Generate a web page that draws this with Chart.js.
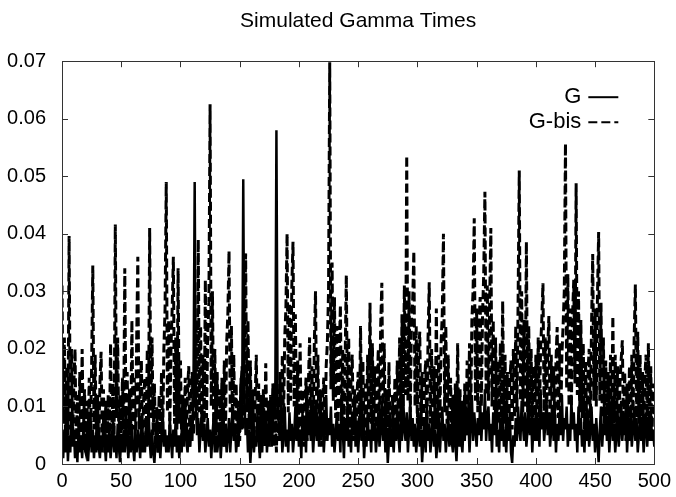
<!DOCTYPE html>
<html>
<head>
<meta charset="utf-8">
<script src="https://cdn.jsdelivr.net/npm/chart.js@4.4.1/dist/chart.umd.min.js"></script>
<style>
  html, body { margin: 0; padding: 0; background: #fff; }
  #wrap { width: 676px; height: 497px; }
</style>
</head>
<body>
<div id="wrap"><canvas id="gamma"></canvas></div>
<script>
// Simulated Gamma Times
const chartTitle = 'Simulated Gamma Times';
const seriesNames = ['G', 'G-bis'];
const xTickValues = [0, 50, 100, 150, 200, 250, 300, 350, 400, 450, 500];
const yTickValues = [0, 0.01, 0.02, 0.03, 0.04, 0.05, 0.06, 0.07];
const yTickLabels = ['0', '0.01', '0.02', '0.03', '0.04', '0.05', '0.06', '0.07'];

// G (solid), t = 0..500
const gValues = [
  .004,.001,.006,.002,.008,.0005,.005,.002,.009,.003,
  .006,.001,.004,.0003,.007,.002,.005,.001,.006,.003,
  .002,.006,.0005,.004,.009,.002,.006,.001,.005,.002,
  .007,.003,.001,.005,.002,.009,.004,.0005,.005,.002,
  .006,.001,.004,.008,.002,.005,.001,.007,.003,.0003,
  .005,.002,.006,.002,.009,.004,.001,.005,.002,.007,
  .003,.0005,.005,.002,.006,.004,.001,.008,.002,.005,
  .002,.007,.003,.01,.004,.001,.006,.002,.0002,.004,
  .008,.002,.005,.001,.005,.009,.003,.006,.002,.005,
  .002,.008,.004,.001,.006,.003,.008,.002,.005,.001,
  .005,.002,.007,.004,.011,.004,.002,.006,.003,.008,
  .004,.013,.049,.01,.005,.008,.002,.006,.009,.004,
  .007,.002,.005,.008,.003,.006,.001,.005,.008,.002,
  .005,.002,.004,.007,.001,.005,.009,.003,.006,.002,
  .005,.008,.002,.006,.01,.004,.007,.002,.005,.003,
  .008,.015,.006,.0495,.012,.005,.008,.002,.006,.0002,
  .004,.007,.002,.005,.003,.009,.005,.001,.006,.002,
  .008,.004,.009,.002,.006,.004,.011,.003,.007,.014,
  .009,.058,.011,.006,.004,.008,.002,.005,.01,.003,
  .006,.002,.009,.004,.007,.002,.005,.01,.004,.008,
  .003,.006,.001,.009,.004,.008,.002,.012,.005,.009,
  .004,.007,.002,.006,.011,.004,.008,.003,.013,.005,
  .009,.002,.006,.012,.004,.008,.005,.01,.003,.007,
  .002,.005,.009,.004,.007,.002,.012,.006,.001,.008,
  .004,.01,.003,.006,.002,.009,.005,.012,.004,.007,
  .002,.006,.011,.004,.008,.001,.005,.003,.009,.004,
  .006,.002,.01,.004,.007,.002,.005,.009,.003,.006,
  .011,.004,.008,.002,.006,.0002,.004,.009,.003,.005,
  .002,.007,.004,.01,.005,.002,.008,.004,.012,.006,
  .004,.009,.002,.006,.011,.004,.008,.003,.007,.002,
  .005,.009,.003,.006,.0003,.004,.008,.002,.01,.004,
  .007,.002,.005,.009,.003,.006,.001,.004,.008,.002,
  .006,.01,.004,.007,.002,.005,.009,.003,.006,.004,
  .002,.008,.004,.0005,.006,.003,.009,.004,.002,.007,
  .004,.01,.005,.008,.002,.007,.012,.004,.009,.006,
  .003,.008,.005,.011,.004,.009,.006,.013,.004,.008,
  .01,.004,.007,.002,.009,.005,.012,.003,.006,.002,
  .008,.004,.01,.003,.006,.002,.007,.004,.009,.002,
  .0002,.005,.003,.008,.004,.01,.006,.004,.011,.007,
  .004,.009,.003,.006,.012,.005,.008,.002,.007,.004,
  .01,.004,.008,.003,.013,.006,.009,.004,.007,.011,
  .005,.009,.003,.006,.01,.004,.008,.002,.007,.004,
  .009,.005,.012,.004,.008,.006,.01,.003,.007,.004,
  .011,.006,.009,.004,.007,.002,.01,.005,.008,.003,
  .006,.002,.008,.004,.009,.003,.006,.01,.004,.007,
  .002,.008,.004,.0003,.006,.01,.003,.007,.005,.009,
  .004,.008,.002,.006,.01,.004,.007,.002,.005,.009,
  .003,.006,.011,.004,.008,.005,.01,.002,.007,.004,
  .009,.003,.006,.01,.004,.008,.002,.005,.009,.004,
  .007,.002,.006,.009,.003,.008,.004,.01,.004,.006,
  .003
];

// G-bis (dashed), t = 0..500
const gbisValues = [
  .031,.007,.022,.003,.017,.005,.0396,.006,.02,.004,
  .014,.02,.003,.012,.004,.016,.003,.02,.005,.013,
  .002,.011,.004,.015,.003,.017,.0345,.006,.019,.004,
  .012,.003,.014,.0195,.004,.013,.002,.011,.003,.012,
  .004,.021,.006,.014,.005,.0416,.008,.022,.004,.012,
  .003,.015,.006,.034,.007,.016,.003,.013,.005,.025,
  .006,.015,.004,.021,.036,.006,.012,.018,.003,.012,
  .015,.004,.02,.007,.041,.008,.022,.005,.014,.003,
  .01,.002,.012,.004,.016,.005,.02,.027,.049,.009,
  .025,.006,.02,.027,.036,.007,.022,.006,.034,.007,
  .018,.004,.012,.003,.015,.004,.013,.017,.003,.012,
  .016,.005,.02,.025,.008,.039,.009,.024,.005,.019,
  .006,.032,.008,.022,.028,.0625,.01,.03,.007,.02,
  .005,.016,.003,.013,.004,.015,.003,.018,.005,.021,
  .026,.037,.009,.024,.006,.019,.004,.014,.003,.011,
  .004,.013,.017,.006,.021,.0366,.009,.025,.006,.018,
  .004,.013,.003,.011,.019,.004,.014,.002,.012,.004,
  .013,.003,.0175,.005,.011,.003,.012,.004,.014,.003,
  .011,.002,.013,.004,.016,.006,.019,.007,.022,.027,
  .04,.009,.028,.011,.031,.0386,.01,.026,.006,.018,
  .005,.021,.004,.013,.003,.011,.015,.004,.014,.022,
  .006,.017,.004,.021,.03,.007,.019,.004,.013,.003,
  .011,.015,.004,.017,.021,.03,.0698,.013,.035,.011,
  .029,.008,.024,.006,.019,.0276,.007,.02,.005,.018,
  .0328,.008,.022,.005,.015,.019,.004,.013,.003,.012,
  .016,.004,.024,.006,.018,.003,.014,.005,.019,.007,
  .028,.007,.021,.005,.017,.004,.013,.02,.006,.024,
  .0315,.008,.021,.004,.013,.003,.0177,.005,.003,.012,
  .004,.015,.005,.018,.006,.022,.008,.026,.01,.031,
  .012,.0536,.011,.03,.009,.025,.028,.037,.01,.024,
  .007,.019,.023,.006,.016,.004,.014,.018,.005,.022,
  .0316,.007,.02,.005,.017,.006,.027,.006,.019,.008,
  .021,.026,.04,.009,.024,.007,.019,.005,.015,.004,
  .012,.003,.014,.005,.021,.004,.013,.003,.011,.004,
  .014,.005,.018,.006,.021,.008,.025,.03,.0427,.011,
  .027,.009,.024,.029,.01,.026,.033,.0473,.012,.031,
  .011,.028,.041,.01,.025,.008,.022,.006,.018,.007,
  .021,.008,.0283,.007,.019,.005,.016,.004,.014,.018,
  .006,.02,.008,.024,.009,.028,.051,.011,.03,.009,
  .025,.01,.0386,.009,.024,.007,.02,.005,.017,.006,
  .019,.007,.022,.008,.02,.025,.0314,.008,.022,.007,
  .02,.0257,.007,.019,.005,.017,.006,.018,.0238,.008,
  .021,.007,.019,.024,.03,.0557,.013,.033,.01,.027,
  .01,.026,.032,.014,.0488,.012,.03,.009,.025,.008,
  .021,.006,.018,.005,.016,.02,.008,.024,.0365,.011,
  .027,.01,.029,.0403,.011,.028,.008,.022,.006,.018,
  .005,.016,.006,.019,.007,.0257,.007,.019,.006,.017,
  .004,.014,.018,.0215,.006,.016,.004,.014,.005,.017,
  .006,.019,.008,.022,.0312,.008,.023,.007,.019,.006,
  .016,.005,.015,.019,.006,.021,.006,.017,.004,.014,
  .008
];

const fontFamily = "'Liberation Sans', Arial, Helvetica, sans-serif";

function toPoints(values) {
  return values.map((v, i) => ({ x: i, y: v }));
}

// gnuplot style box, inward ticks and key
const framePlugin = {
  id: 'frame',
  afterDatasetsDraw(chart) {
    const ctx = chart.ctx;
    const area = chart.chartArea;
    const xs = chart.scales.x;
    const ys = chart.scales.y;
    const tick = 6;
    ctx.save();
    ctx.strokeStyle = '#333';
    ctx.lineWidth = 1;
    ctx.beginPath();
    xTickValues.forEach(v => {
      const px = Math.round(xs.getPixelForValue(v)) + 0.5;
      ctx.moveTo(px, area.bottom);
      ctx.lineTo(px, area.bottom - tick);
      ctx.moveTo(px, area.top);
      ctx.lineTo(px, area.top + tick);
    });
    yTickValues.forEach(v => {
      const py = Math.round(ys.getPixelForValue(v)) + 0.5;
      ctx.moveTo(area.left, py);
      ctx.lineTo(area.left + tick, py);
      ctx.moveTo(area.right, py);
      ctx.lineTo(area.right - tick, py);
    });
    ctx.stroke();
    ctx.strokeRect(Math.round(area.left) + 0.5, Math.round(area.top) + 0.5,
      Math.round(area.right - area.left), Math.round(area.bottom - area.top));

    // key
    ctx.fillStyle = '#000';
    ctx.font = '22px ' + fontFamily;
    ctx.textAlign = 'right';
    ctx.textBaseline = 'middle';
    const textRight = area.right - 71;
    const lineX0 = area.right - 68;
    const lineX1 = area.right - 36;
    chart.data.datasets.forEach((ds, i) => {
      const y = area.top + 36 + i * 25;
      ctx.fillText(ds.label, textRight - 2, y);
      ctx.setLineDash(ds.borderDash || []);
      ctx.lineWidth = 2;
      ctx.strokeStyle = '#000';
      ctx.beginPath();
      ctx.moveTo(lineX0 + 2, y);
      ctx.lineTo(lineX1, y);
      ctx.stroke();
    });
    ctx.restore();
  }
};

const ctx = document.getElementById('gamma').getContext('2d');
const gammaChart = new Chart(ctx, {
  type: 'line',
  data: {
    datasets: [{
        label: seriesNames[0],
        data: toPoints(gValues),
        borderColor: '#000',
        borderWidth: 2.5,
        pointRadius: 0,
        tension: 0,
        order: 0
      },
      {
        label: seriesNames[1],
        data: toPoints(gbisValues),
        borderColor: '#000',
        borderWidth: 3,
        borderDash: [9, 4],
        pointRadius: 0,
        tension: 0,
        order: 1
      }
    ]
  },
  options: {
    responsive: true,
    maintainAspectRatio: false,
    animation: false,
    layout: {
      padding: { left: 0, right: 19, top: 0, bottom: 0 }
    },
    scales: {
      x: {
        type: 'linear',
        min: 0,
        max: 500,
        afterBuildTicks: s => { s.ticks = xTickValues.map(v => ({ value: v })); },
        afterFit: s => { s.height = 33; },
        grid: { display: false, drawTicks: false },
        border: { display: false },
        ticks: {
          color: '#000',
          padding: 5,
          maxRotation: 0,
          font: { family: fontFamily, size: 20 }
        }
      },
      y: {
        min: 0,
        max: 0.07,
        afterBuildTicks: s => { s.ticks = yTickValues.map(v => ({ value: v })); },
        afterFit: s => { s.width = 62; },
        grid: { display: false, drawTicks: false },
        border: { display: false },
        ticks: {
          color: '#000',
          padding: 16,
          font: { family: fontFamily, size: 20 },
          callback: (v, i) => yTickLabels[i]
        }
      }
    },
    plugins: {
      title: {
        display: true,
        fullSize: false,
        text: chartTitle,
        color: '#000',
        font: { family: fontFamily, size: 21, weight: 'normal' },
        padding: { top: 9, bottom: 27 }
      },
      legend: false,
      tooltip: { enabled: false }
    }
  },
  plugins: [framePlugin]
});
</script>
</body>
</html>
